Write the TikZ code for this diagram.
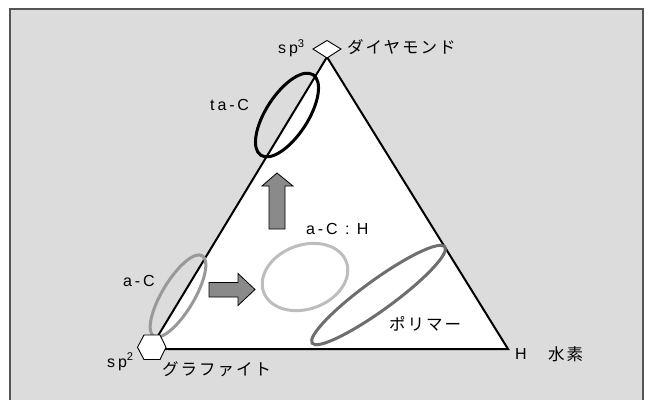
\documentclass[tikz,border=0pt]{standalone}
\usepackage{fontspec}
\setmainfont{Liberation Sans}
\newfontfamily\latf{Liberation Sans}[LetterSpace=18]
\newfontfamily\jpf{Noto Sans CJK JP}[LetterSpace=12]
\definecolor{bgc}{HTML}{DCDCDC}
\definecolor{framec}{HTML}{555555}
\definecolor{acc}{HTML}{999999}
\definecolor{achc}{HTML}{BDBDBD}
\definecolor{polyc}{HTML}{6E6E6E}
\definecolor{arrc}{HTML}{8A8A8A}
\tikzset{
  lab/.style={inner sep=0pt, font=\fontsize{16}{18}\selectfont\latf},
  jlab/.style={inner sep=0pt, font=\fontsize{16.5}{18}\selectfont\jpf},
  ring/.style={line width=3pt},
  blockarrow/.style={fill=arrc, draw=black, line width=0.8pt, line join=miter},
  vertexmark/.style={fill=white, draw=black, line width=0.9pt}
}
\begin{document}
\begin{tikzpicture}[x=1pt,y=-1pt]
\useasboundingbox (0,0) rectangle (650,400);
\fill[white] (0,0) rectangle (650,400);
\fill[bgc] (10,9) rectangle (643,400);
\draw[framec, line width=1.2pt] (10,400) -- (10,9) -- (643,9) -- (643,400);
% triangle
\coordinate (T) at (327,57);
\coordinate (L) at (150,349);
\coordinate (R) at (508,349);
\filldraw[fill=white, draw=black, line width=2pt] (T) -- (L) -- (R) -- cycle;
% ellipses
\draw[ring, black] (287,115) ellipse [x radius=48pt, y radius=21pt, rotate=57];
\draw[ring, acc] (178,296) ellipse [x radius=47pt, y radius=16pt, rotate=59];
\draw[ring, achc] (305,277) ellipse [x radius=44pt, y radius=32pt, rotate=20];
\draw[ring, polyc] (378.5,295) ellipse [x radius=82pt, y radius=15pt, rotate=36];
% block arrows
\draw[blockarrow] (277,173) -- (262,186) -- (269,186) -- (269,229) -- (285,229) -- (285,186) -- (293,186) -- cycle;
\draw[blockarrow] (209,282.5) -- (238,282.5) -- (238,273.5) -- (255,289.5) -- (238,305.5) -- (238,297) -- (209,297) -- cycle;
% vertex markers
\filldraw[vertexmark] (313,49) -- (327,40.5) -- (341,49) -- (327,58) -- cycle;
\filldraw[vertexmark] (137.5,347.3) -- (144,335) -- (160,335) -- (166,347.3) -- (160,359.5) -- (144,359.5) -- cycle;
% labels
\node[lab, anchor=base west] (sp3) at (278,53.3) {sp\textsuperscript{3}};
\node[jlab, anchor=base west] (dia) at (347,53.5) {ダイヤモンド};
\node[lab, anchor=base west] (sp2) at (107,367) {sp\textsuperscript{2}};
\node[jlab, anchor=base west] (gra) at (162,375.5) {グラファイト};
\node[lab, anchor=base west] (h) at (515,359) {H};
\node[jlab, anchor=base west] (hyd) at (548,360) {水素};
\node[lab, anchor=base west] (tac) at (210,110.7) {ta-C};
\node[lab, anchor=base west] (ac) at (123,286.7) {a-C};
\node[lab, anchor=base west] (ach) at (306,234) {a-C : H};
\node[jlab, anchor=base west] (poly) at (389,330) {ポリマー};
\end{tikzpicture}
\end{document}
